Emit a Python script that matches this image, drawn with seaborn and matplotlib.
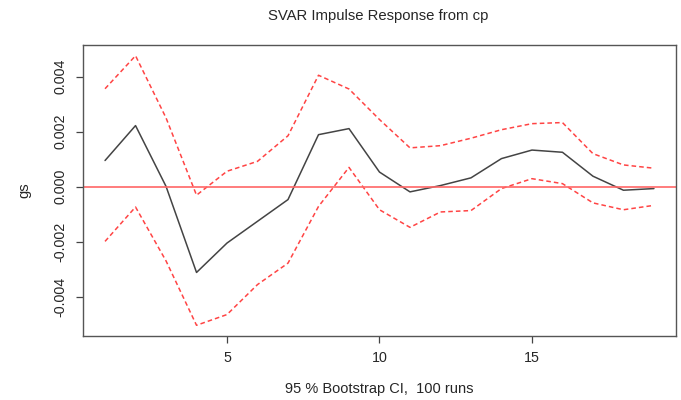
import matplotlib
matplotlib.use("Agg")
import matplotlib.pyplot as plt
import seaborn as sns
import pandas as pd

# IRF of gs to a shock in cp, with 95% bootstrap bands
horizon = list(range(1, 20))
irf = [0.00095, 0.00222, 0.00001, -0.00312, -0.00205, -0.00126, -0.00047,
       0.00189, 0.00211, 0.00053, -0.00019, 0.00004, 0.00032, 0.00102,
       0.00133, 0.00125, 0.00038, -0.00013, -0.00007]
upper = [0.00356, 0.00476, 0.00250, -0.00031, 0.00056, 0.00092, 0.00185,
         0.00405, 0.00355, 0.00244, 0.00141, 0.00149, 0.00176, 0.00207,
         0.00229, 0.00233, 0.00120, 0.00079, 0.00067]
lower = [-0.00199, -0.00074, -0.00270, -0.00504, -0.00465, -0.00356, -0.00278,
         -0.00072, 0.00070, -0.00084, -0.00148, -0.00092, -0.00087, -0.00007,
         0.00029, 0.00011, -0.00059, -0.00084, -0.00068]
yticks = [-0.004, -0.002, 0.000, 0.002, 0.004]
xticks = [5, 10, 15]

df = pd.DataFrame({"h": horizon, "irf": irf, "upper": upper, "lower": lower})

sns.set_style("white")
plt.rcParams["font.family"] = ["Liberation Sans", "DejaVu Sans"]

fig = plt.figure(figsize=(6.81, 4), dpi=100)
ax = fig.add_axes([0.122, 0.16, 0.8705, 0.7275])

sns.lineplot(data=df, x="h", y="upper", ax=ax, color="#ff4444", lw=1.1, linestyle=(0, (3, 2)))
sns.lineplot(data=df, x="h", y="lower", ax=ax, color="#ff4444", lw=1.1, linestyle=(0, (3, 2)))
sns.lineplot(data=df, x="h", y="irf", ax=ax, color="#444444", lw=1.1)
ax.axhline(0, color="#ff6666", lw=1.2)

ax.set_xlim(0.28, 19.72)
ax.set_ylim(-0.00543, 0.00515)
ax.set_xticks(xticks)
ax.set_xticklabels([str(t) for t in xticks], fontsize=10.3)
ax.set_yticks(yticks)
ax.set_yticklabels([f"{t:.3f}" for t in yticks], fontsize=10.3, rotation=90, va="center")
ax.tick_params(direction="out", length=5, width=0.9, color="#444444", bottom=True, left=True, pad=6)
for s in ax.spines.values():
    s.set_color("#555555")
    s.set_linewidth(1.0)

ax.set_xlabel("95 % Bootstrap CI,  100 runs", fontsize=10.5, labelpad=12)
ax.set_ylabel("gs", fontsize=10.5, labelpad=16)
fig.suptitle("SVAR Impulse Response from cp", fontsize=10.7, x=0.555, y=0.978)

fig.savefig("out.png", dpi=100)
